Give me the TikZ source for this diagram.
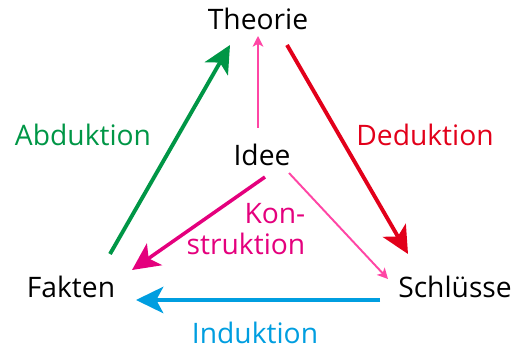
\documentclass[tikz,border=0pt]{standalone}
\usepackage{fontspec}
\setmainfont{Open Sans}
\usetikzlibrary{arrows.meta}
\definecolor{cgreen}{RGB}{0,150,70}
\definecolor{cred}{RGB}{226,0,26}
\definecolor{cmag}{RGB}{228,0,125}
\definecolor{cpink}{RGB}{255,70,165}
\definecolor{cblue}{RGB}{0,158,224}
\begin{document}
\begin{tikzpicture}[x=0.567pt,y=-0.567pt,
  lbl/.style={inner sep=0pt,font=\fontsize{16}{19}\selectfont},
  bigarrow/.style={line width=2.2pt,-{Stealth[length=15.5pt,width=15pt,inset=4pt]}},
  thinarrow/.style={line width=1.1pt,-{Stealth[length=6pt,width=6pt,inset=1.5pt]}}]
\useasboundingbox (0,0) rectangle (515,351);
\node[lbl] (theorie) at (258,19) {Theorie};
\node[lbl] (idee) at (262,155) {Idee};
\node[lbl] (fakten) at (71,287) {Fakten};
\node[lbl] (schluesse) at (455,287) {Schlüsse};
\node[lbl,text=cgreen] (abd) at (83,135) {Abduktion};
\node[lbl,text=cred] (ded) at (425,135) {Deduktion};
\node[lbl,text=cmag,align=right,font=\fontsize{16}{18}\selectfont] (kon) at (246,229) {Kon-\\struktion};
\node[lbl,text=cblue] (ind) at (255,333) {Induktion};
\coordinate (g1) at (110,254); \coordinate (g2) at (230,45);
\coordinate (p1) at (258,128); \coordinate (p2) at (258,36);
\coordinate (r1) at (287,45);  \coordinate (r2) at (408,254);
\coordinate (m1) at (265,177); \coordinate (m2) at (132,270);
\coordinate (q1) at (289,173); \coordinate (q2) at (388,279);
\coordinate (b1) at (380,300); \coordinate (b2) at (136,300);
\draw[bigarrow,cgreen] (g1) -- (g2);
\draw[thinarrow,cpink] (p1) -- (p2);
\draw[bigarrow,cred] (r1) -- (r2);
\draw[bigarrow,cmag,line width=2pt] (m1) -- (m2);
\draw[thinarrow,cpink] (q1) -- (q2);
\draw[bigarrow,cblue,line width=2pt] (b1) -- (b2);
\end{tikzpicture}
\end{document}
